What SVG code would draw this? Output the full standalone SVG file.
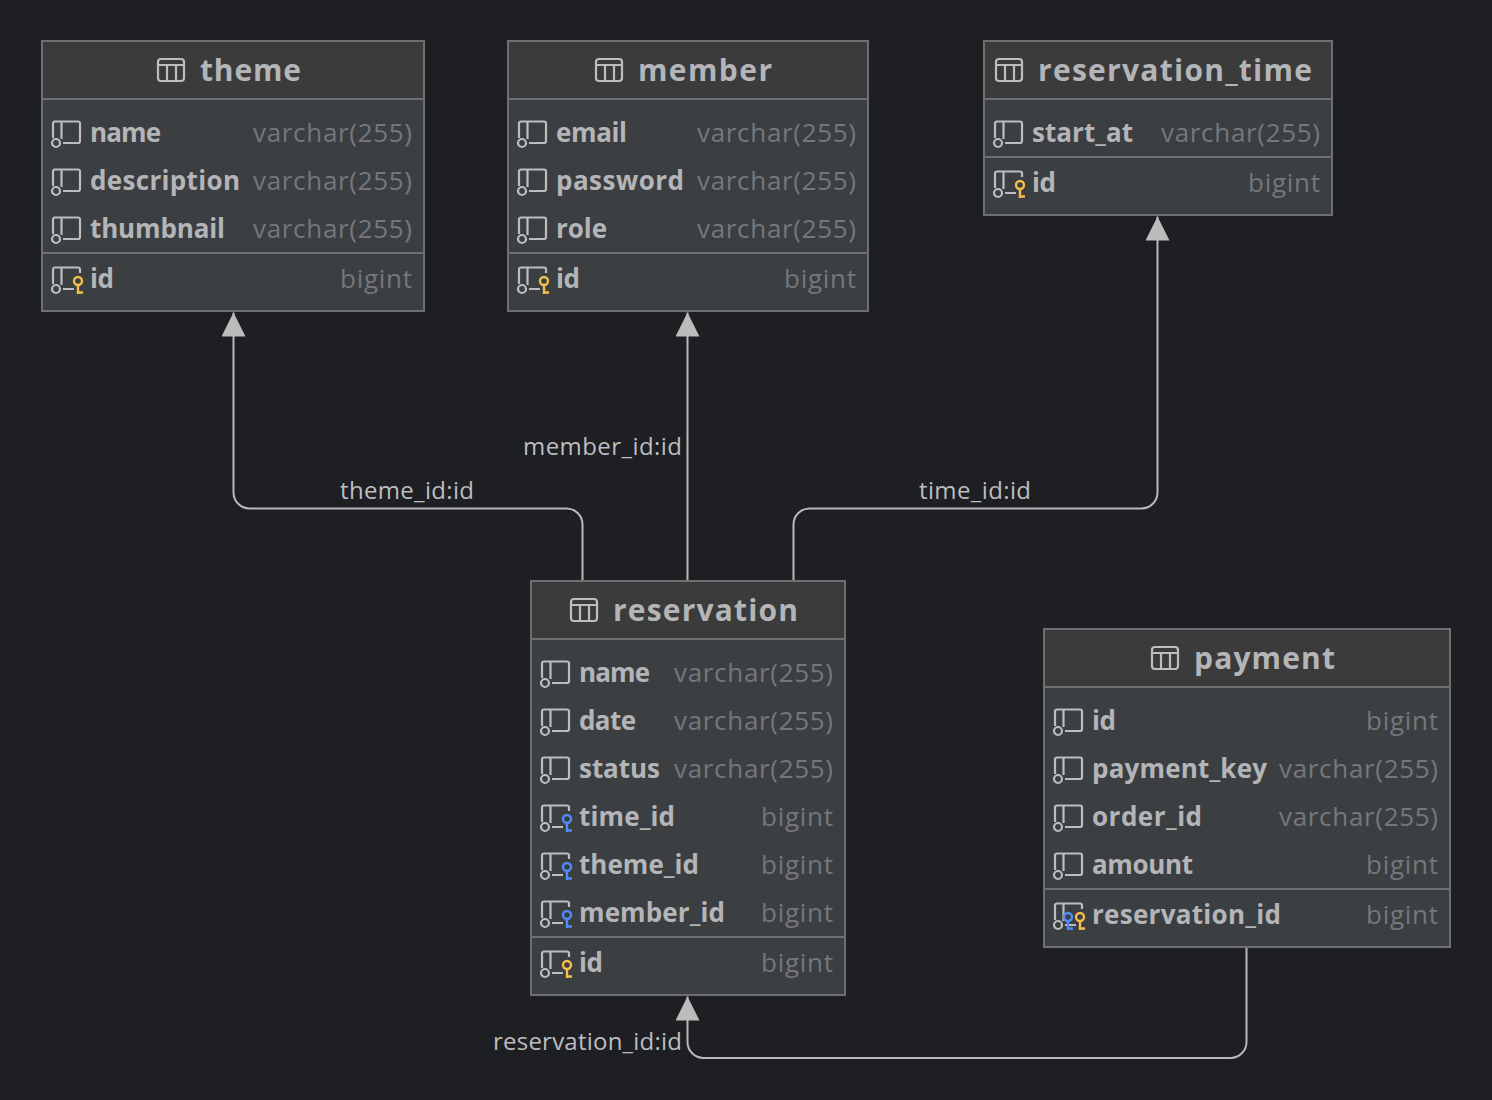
<svg xmlns="http://www.w3.org/2000/svg" width="1492" height="1100" viewBox="0 0 1492 1100">
<style>
.body{fill:#3c3f41}
.head{fill:#3b3b3b}
.box{fill:none;stroke:#6e6f70;stroke-width:2}
.sep{stroke:#6e6f70;stroke-width:2}
.ic{fill:none;stroke:#bcbdc0;stroke-width:2.200}
.title{font:700 30px "Open Sans","DejaVu Sans",sans-serif;fill:#b4b5b8}
.col{font:700 26px "Open Sans","DejaVu Sans",sans-serif;fill:#b4b5b8}
.typ{font:400 26px "Open Sans","DejaVu Sans",sans-serif;fill:#75777c}
.lab{font:400 24px "Open Sans","DejaVu Sans",sans-serif;fill:#bcbdc0}
.conn{fill:none;stroke:#b9b9b9;stroke-width:2}
.yk{fill:none;stroke:#f2bf4d;stroke-width:2.400}
.bk{fill:none;stroke:#548af7;stroke-width:2.400}
</style>
<defs>
<marker id="arr" markerUnits="userSpaceOnUse" markerWidth="24" markerHeight="24" refX="24" refY="12" orient="auto"><path d="M0 0L24 12L0 24Z" fill="#bcbcba"/></marker>
<g id="tbl"><rect class="ic" x="1" y="1" width="26" height="22" rx="3"/><path class="ic" d="M1 7H27M10 7V23M19 7V23"/></g>
<g id="base" transform="translate(-1 0)"><path class="ic" d="M2 18V3.500a2 2 0 0 1 2-2H27a2 2 0 0 1 2 2V21a2 2 0 0 1-2 2H12M10.500 1.500V19"/><circle class="ic" cx="5" cy="23" r="4"/></g>
<g id="keyed" transform="translate(-1 0)"><path class="ic" d="M2 18V3.500a2 2 0 0 1 2-2H27a2 2 0 0 1 2 2V7M12 23H23M10.500 1.500V19"/><circle class="ic" cx="5" cy="23" r="4"/></g>
<g id="yk"><circle class="yk" cx="26" cy="15" r="4"/><path class="yk" d="M26 19V28M26 26.500H31"/></g>
<g id="bk"><circle class="bk" cx="26" cy="15" r="4"/><path class="bk" d="M26 19V28M26 26.500H31"/></g>
<g id="bk2"><circle class="bk" cx="14" cy="15" r="4"/><path class="bk" d="M14 19V28M14 26.500H19"/></g>
</defs>
<rect width="1492" height="1100" fill="#1e1f22"/>
<g id="connectors">
<path class="conn" marker-end="url(#arr)" d="M582.500 580V524a16 16 0 0 0-16-15.500H249.500a16 16 0 0 1-16-16V312.500"/>
<path class="conn" marker-end="url(#arr)" d="M687.500 580V312.500"/>
<path class="conn" marker-end="url(#arr)" d="M793.500 580V524a16 16 0 0 1 16-15.500H1141.500a16 16 0 0 0 16-16V216.500"/>
<path class="conn" marker-end="url(#arr)" d="M1246.500 948V1042a16 16 0 0 1-16 16H703.500a16 16 0 0 1-16-16V996.500"/>
<text class="lab" x="340" y="499" textLength="134">theme_id:id</text>
<text class="lab" x="523" y="455" textLength="159">member_id:id</text>
<text class="lab" x="919" y="499" textLength="112">time_id:id</text>
<text class="lab" x="493" y="1050" textLength="189">reservation_id:id</text>
</g>
<g id="theme">
<rect class="body" x="42" y="41" width="382" height="270"/><rect class="head" x="42" y="41" width="382" height="58"/>
<rect class="box" x="42" y="41" width="382" height="270"/><path class="sep" d="M42 99H424M42 253H424"/>
<use href="#tbl" x="157" y="58"/><text class="title" x="200" y="81" textLength="101">theme</text>
<use href="#base" x="52" y="120"/><text class="col" x="90" y="142" textLength="71">name</text><text class="typ" x="253" y="142" textLength="159">varchar(255)</text>
<use href="#base" x="52" y="168"/><text class="col" x="90" y="190" textLength="150">description</text><text class="typ" x="253" y="190" textLength="159">varchar(255)</text>
<use href="#base" x="52" y="216"/><text class="col" x="90" y="238" textLength="135">thumbnail</text><text class="typ" x="253" y="238" textLength="159">varchar(255)</text>
<use href="#keyed" x="52" y="266"/><use href="#yk" x="52" y="266"/><text class="col" x="90" y="288" textLength="24">id</text><text class="typ" x="340" y="288" textLength="72">bigint</text>
</g>
<g id="member">
<rect class="body" x="508" y="41" width="360" height="270"/><rect class="head" x="508" y="41" width="360" height="58"/>
<rect class="box" x="508" y="41" width="360" height="270"/><path class="sep" d="M508 99H868M508 253H868"/>
<use href="#tbl" x="595" y="58"/><text class="title" x="638" y="81" textLength="134">member</text>
<use href="#base" x="518" y="120"/><text class="col" x="556" y="142" textLength="71">email</text><text class="typ" x="697" y="142" textLength="159">varchar(255)</text>
<use href="#base" x="518" y="168"/><text class="col" x="556" y="190" textLength="128">password</text><text class="typ" x="697" y="190" textLength="159">varchar(255)</text>
<use href="#base" x="518" y="216"/><text class="col" x="556" y="238" textLength="51">role</text><text class="typ" x="697" y="238" textLength="159">varchar(255)</text>
<use href="#keyed" x="518" y="266"/><use href="#yk" x="518" y="266"/><text class="col" x="556" y="288" textLength="24">id</text><text class="typ" x="784" y="288" textLength="72">bigint</text>
</g>
<g id="reservation_time">
<rect class="body" x="984" y="41" width="348" height="174"/><rect class="head" x="984" y="41" width="348" height="58"/>
<rect class="box" x="984" y="41" width="348" height="174"/><path class="sep" d="M984 99H1332M984 157H1332"/>
<use href="#tbl" x="995" y="58"/><text class="title" x="1038" y="81" textLength="274">reservation_time</text>
<use href="#base" x="994" y="120"/><text class="col" x="1032" y="142" textLength="101">start_at</text><text class="typ" x="1161" y="142" textLength="159">varchar(255)</text>
<use href="#keyed" x="994" y="170"/><use href="#yk" x="994" y="170"/><text class="col" x="1032" y="192" textLength="24">id</text><text class="typ" x="1248" y="192" textLength="72">bigint</text>
</g>
<g id="reservation">
<rect class="body" x="531" y="581" width="314" height="414"/><rect class="head" x="531" y="581" width="314" height="58"/>
<rect class="box" x="531" y="581" width="314" height="414"/><path class="sep" d="M531 639H845M531 937H845"/>
<use href="#tbl" x="570" y="598"/><text class="title" x="613" y="621" textLength="185">reservation</text>
<use href="#base" x="541" y="660"/><text class="col" x="579" y="682" textLength="71">name</text><text class="typ" x="674" y="682" textLength="159">varchar(255)</text>
<use href="#base" x="541" y="708"/><text class="col" x="579" y="730" textLength="57">date</text><text class="typ" x="674" y="730" textLength="159">varchar(255)</text>
<use href="#base" x="541" y="756"/><text class="col" x="579" y="778" textLength="81">status</text><text class="typ" x="674" y="778" textLength="159">varchar(255)</text>
<use href="#keyed" x="541" y="804"/><use href="#bk" x="541" y="804"/><text class="col" x="579" y="826" textLength="96">time_id</text><text class="typ" x="761" y="826" textLength="72">bigint</text>
<use href="#keyed" x="541" y="852"/><use href="#bk" x="541" y="852"/><text class="col" x="579" y="874" textLength="120">theme_id</text><text class="typ" x="761" y="874" textLength="72">bigint</text>
<use href="#keyed" x="541" y="900"/><use href="#bk" x="541" y="900"/><text class="col" x="579" y="922" textLength="146">member_id</text><text class="typ" x="761" y="922" textLength="72">bigint</text>
<use href="#keyed" x="541" y="950"/><use href="#yk" x="541" y="950"/><text class="col" x="579" y="972" textLength="24">id</text><text class="typ" x="761" y="972" textLength="72">bigint</text>
</g>
<g id="payment">
<rect class="body" x="1044" y="629" width="406" height="318"/><rect class="head" x="1044" y="629" width="406" height="58"/>
<rect class="box" x="1044" y="629" width="406" height="318"/><path class="sep" d="M1044 687H1450M1044 889H1450"/>
<use href="#tbl" x="1151" y="646"/><text class="title" x="1194" y="669" textLength="141">payment</text>
<use href="#base" x="1054" y="708"/><text class="col" x="1092" y="730" textLength="24">id</text><text class="typ" x="1366" y="730" textLength="72">bigint</text>
<use href="#base" x="1054" y="756"/><text class="col" x="1092" y="778" textLength="175">payment_key</text><text class="typ" x="1279" y="778" textLength="159">varchar(255)</text>
<use href="#base" x="1054" y="804"/><text class="col" x="1092" y="826" textLength="110">order_id</text><text class="typ" x="1279" y="826" textLength="159">varchar(255)</text>
<use href="#base" x="1054" y="852"/><text class="col" x="1092" y="874" textLength="101">amount</text><text class="typ" x="1366" y="874" textLength="72">bigint</text>
<use href="#keyed" x="1054" y="902"/><use href="#bk2" x="1054" y="902"/><use href="#yk" x="1054" y="902"/><text class="col" x="1092" y="924" textLength="189">reservation_id</text><text class="typ" x="1366" y="924" textLength="72">bigint</text>
</g>
</svg>
